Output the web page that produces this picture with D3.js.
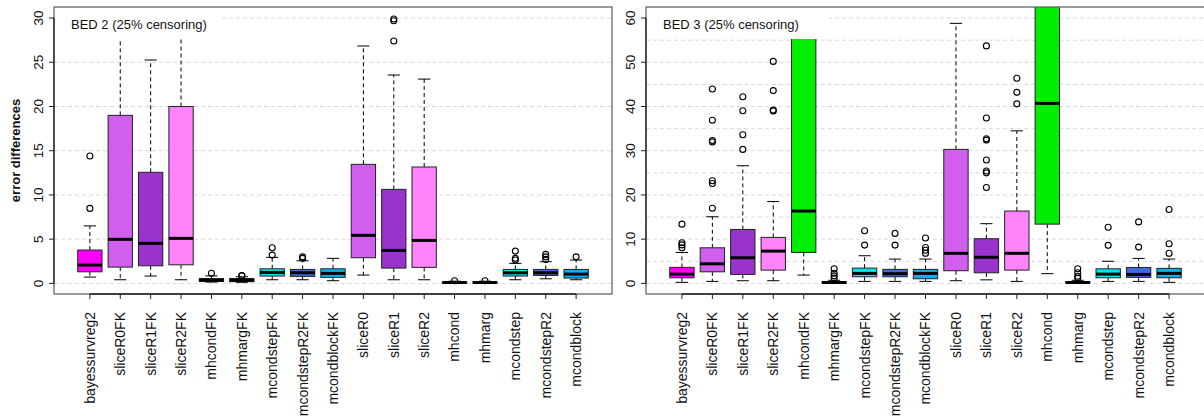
<!DOCTYPE html>
<html>
<head>
<meta charset="utf-8">
<script src="https://cdn.jsdelivr.net/npm/d3@7"></script>
<style>
  body { margin: 0; background: #fff; }
  text { font-family: "Liberation Sans", Arial, Helvetica, sans-serif; }
</style>
</head>
<body>
<div id="chart"></div>
<script>
/* DATA */

const methods = ["bayessurvreg2", "sliceR0FK", "sliceR1FK", "sliceR2FK", "mhcondFK", "mhmargFK",
  "mcondstepFK", "mcondstepR2FK", "mcondblockFK", "sliceR0", "sliceR1", "sliceR2", "mhcond",
  "mhmarg", "mcondstep", "mcondstepR2", "mcondblock"];

const fills = ["#ff00ff", "#d15fee", "#9a32cd", "#ff83fa", "#00ee00", "#006400",
  "#00e5ee", "#4169e1", "#00b2ee", "#d15fee", "#9a32cd", "#ff83fa", "#00ee00",
  "#006400", "#00e5ee", "#4169e1", "#00b2ee"];

// BED 2 box stats
const bed2Lo  = [0.71, 0.41, 0.83, 0.41, 0.15, 0.12, 0.41, 0.41, 0.30, 0.94, 0.41, 0.41, 0.02, 0.02, 0.41, 0.52, 0.41];
const bed2Q1  = [1.31, 1.84, 1.99, 2.10, 0.22, 0.20, 0.83, 0.79, 0.68, 2.90, 1.73, 1.81, 0.06, 0.06, 0.83, 0.90, 0.60];
const bed2Med = [2.07, 4.98, 4.52, 5.09, 0.35, 0.35, 1.24, 1.20, 1.13, 5.43, 3.73, 4.86, 0.10, 0.10, 1.20, 1.20, 1.05];
const bed2Q3  = [3.77, 19.0, 12.56, 20.0, 0.55, 0.55, 1.65, 1.58, 1.65, 13.46, 10.63, 13.16, 0.16, 0.16, 1.58, 1.58, 1.58];
const bed2Hi  = [6.5, 28.4, 25.26, 29.0, 0.85, 0.75, 2.94, 2.56, 2.83, 26.84, 23.56, 23.1, 0.25, 0.25, 2.26, 2.45, 2.64];
const bed2Out = [[8.48, 14.4], [], [], [], [1.15], [0.85, 0.9], [3.2, 4.03], [2.83, 3.0], [],
  [], [27.4, 29.7, 29.9], [], [0.3], [0.3], [2.64, 2.83, 3.65], [2.71, 3.0, 3.28], [3.0]];

// BED 3 box stats
const bed3Lo  = [0.23, 0.45, 0.6, 0.6, 1.88, 0.02, 0.45, 0.45, 0.45, 0.6, 0.8, 0.45, 2.2, 0.02, 0.45, 0.45, 0.23];
const bed3Q1  = [1.27, 2.62, 2.03, 3.0, 7.0, 0.1, 1.5, 1.5, 1.05, 2.86, 2.4, 3.0, 13.4, 0.1, 1.27, 1.36, 1.27];
const bed3Med = [2.1, 4.43, 5.8, 7.3, 16.36, 0.2, 2.26, 2.2, 2.26, 6.8, 5.9, 6.8, 40.7, 0.2, 2.1, 2.03, 2.26];
const bed3Q3  = [3.62, 8.05, 12.2, 10.4, 58, 0.35, 3.46, 3.17, 3.17, 30.3, 10.1, 16.36, 70, 0.35, 3.3, 3.6, 3.4];
const bed3Hi  = [7.0, 15.07, 26.6, 18.5, 80, 0.7, 6.25, 5.5, 5.5, 58.8, 13.5, 34.5, 95, 0.7, 5.0, 5.65, 5.5];
const bed3Out = [[8.05, 8.7, 9.2, 13.4], [17.0, 22.6, 23.2, 32.0, 32.3, 36.9, 43.96],
  [30.3, 33.6, 39.05, 42.2], [39.0, 39.2, 43.6, 50.2], [], [1.2, 1.7, 2.3, 3.3],
  [8.66, 11.9], [8.66, 11.3], [6.8, 7.5, 8.1, 10.25], [],
  [21.7, 25.0, 25.4, 27.9, 32.4, 32.7, 37.4, 53.7], [40.6, 43.2, 46.4], [],
  [1.2, 1.6, 2.4, 3.3], [8.6, 12.7], [8.2, 13.9], [6.8, 8.96, 16.7]];

const bed2Ticks = [0, 5, 10, 15, 20, 25, 30];
const bed2Grid = [0, 5, 10, 15, 20, 25, 30];
const bed3Ticks = [0, 10, 20, 30, 40, 50, 60];
const bed3Grid = [0, 5, 10, 15, 20, 25, 30, 35, 40, 45, 50, 55, 60];

/* SET UP */

const w = 1204;
const h = 420;
const plotTop = 7;
const plotBottom = 294;

const svg = d3.select("#chart").append("svg")
  .attr("width", w)
  .attr("height", h);

const panels = [
  { id: "p1", left: 54, right: 612, ymin: -1.2, ymax: 31.25, title: "BED 2 (25% censoring)",
    lo: bed2Lo, q1: bed2Q1, med: bed2Med, q3: bed2Q3, hi: bed2Hi, out: bed2Out,
    ticks: bed2Ticks, grid: bed2Grid, legendW: 166 },
  { id: "p2", left: 646, right: 1205, ymin: -2.4, ymax: 62.5, title: "BED 3 (25% censoring)",
    lo: bed3Lo, q1: bed3Q1, med: bed3Med, q3: bed3Q3, hi: bed3Hi, out: bed3Out,
    ticks: bed3Ticks, grid: bed3Grid, legendW: 182 }
];

panels.forEach((p) => {
  const x = d3.scaleLinear().domain([-0.18, 18.18]).range([p.left, p.right]);
  const y = d3.scaleLinear().domain([p.ymin, p.ymax]).range([plotBottom, plotTop]);
  const bw = (x(1) - x(0)) * 0.8;
  const sw = bw / 2;

  svg.append("clipPath").attr("id", "clip-" + p.id)
    .append("rect")
    .attr("x", p.left).attr("y", plotTop)
    .attr("width", p.right - p.left).attr("height", plotBottom - plotTop);

  const g = svg.append("g").attr("clip-path", `url(#clip-${p.id})`);

  // grid
  g.selectAll(".grid").data(p.grid).join("line")
    .attr("x1", p.left).attr("x2", p.right)
    .attr("y1", (d) => y(d)).attr("y2", (d) => y(d))
    .attr("stroke", "#d9d9d9").attr("stroke-dasharray", "4,3");

  const boxes = g.selectAll(".bx").data(methods).join("g").attr("class", "bx");

  // whiskers
  boxes.append("line")
    .attr("x1", (d, i) => x(i + 1)).attr("x2", (d, i) => x(i + 1))
    .attr("y1", (d, i) => y(p.q3[i])).attr("y2", (d, i) => y(p.hi[i]))
    .attr("stroke", "#000").attr("stroke-dasharray", "4,3");
  boxes.append("line")
    .attr("x1", (d, i) => x(i + 1)).attr("x2", (d, i) => x(i + 1))
    .attr("y1", (d, i) => y(p.q1[i])).attr("y2", (d, i) => y(p.lo[i]))
    .attr("stroke", "#000").attr("stroke-dasharray", "4,3");
  // staples
  boxes.append("line")
    .attr("x1", (d, i) => x(i + 1) - sw / 2).attr("x2", (d, i) => x(i + 1) + sw / 2)
    .attr("y1", (d, i) => y(p.hi[i])).attr("y2", (d, i) => y(p.hi[i]))
    .attr("stroke", "#000");
  boxes.append("line")
    .attr("x1", (d, i) => x(i + 1) - sw / 2).attr("x2", (d, i) => x(i + 1) + sw / 2)
    .attr("y1", (d, i) => y(p.lo[i])).attr("y2", (d, i) => y(p.lo[i]))
    .attr("stroke", "#000");
  // box
  boxes.append("rect")
    .attr("x", (d, i) => x(i + 1) - bw / 2)
    .attr("width", bw)
    .attr("y", (d, i) => y(p.q3[i]))
    .attr("height", (d, i) => Math.max(0.5, y(p.q1[i]) - y(p.q3[i])))
    .attr("fill", (d, i) => fills[i])
    .attr("stroke", "#222").attr("stroke-width", 1);
  // median
  boxes.append("line")
    .attr("x1", (d, i) => x(i + 1) - bw / 2).attr("x2", (d, i) => x(i + 1) + bw / 2)
    .attr("y1", (d, i) => y(p.med[i])).attr("y2", (d, i) => y(p.med[i]))
    .attr("stroke", "#000").attr("stroke-width", 3);
  // outliers
  boxes.each(function (d, i) {
    d3.select(this).selectAll("circle").data(p.out[i]).join("circle")
      .attr("cx", x(i + 1)).attr("cy", (v) => y(v)).attr("r", 3)
      .attr("fill", "none").attr("stroke", "#000").attr("stroke-width", 1.1);
  });

  // legend box
  svg.append("rect")
    .attr("x", p.left + 1).attr("y", plotTop + 1)
    .attr("width", p.legendW).attr("height", 31)
    .attr("fill", "#fff");
  svg.append("text")
    .attr("x", p.left + 17).attr("y", 29)
    .attr("font-size", 13).attr("fill", "#111")
    .text(p.title);

  // frame
  svg.append("rect")
    .attr("x", p.left).attr("y", plotTop)
    .attr("width", p.right - p.left).attr("height", plotBottom - plotTop)
    .attr("fill", "none").attr("stroke", "#666").attr("stroke-width", 1.3);

  // y axis
  const ya = svg.append("g");
  ya.append("line")
    .attr("x1", p.left).attr("x2", p.left)
    .attr("y1", y(p.ticks[0])).attr("y2", y(p.ticks[p.ticks.length - 1]))
    .attr("stroke", "#222").attr("stroke-width", 1.3);
  ya.selectAll(".yt").data(p.ticks).join("line")
    .attr("x1", p.left - 5).attr("x2", p.left)
    .attr("y1", (d) => y(d)).attr("y2", (d) => y(d))
    .attr("stroke", "#222");
  ya.selectAll(".yl").data(p.ticks).join("text")
    .attr("transform", (d) => `translate(${p.left - 11},${y(d)}) rotate(-90)`)
    .attr("text-anchor", "middle")
    .attr("font-size", 13.5).attr("fill", "#111")
    .text((d) => d);

  // x axis
  const xa = svg.append("g");
  xa.append("line")
    .attr("x1", x(1)).attr("x2", x(methods.length))
    .attr("y1", plotBottom).attr("y2", plotBottom)
    .attr("stroke", "#222").attr("stroke-width", 1.3);
  xa.selectAll(".xt").data(methods).join("line")
    .attr("x1", (d, i) => x(i + 1)).attr("x2", (d, i) => x(i + 1))
    .attr("y1", plotBottom).attr("y2", plotBottom + 5)
    .attr("stroke", "#222");
  xa.selectAll(".xl").data(methods).join("text")
    .attr("transform", (d, i) => `translate(${x(i + 1)},312) rotate(-90)`)
    .attr("text-anchor", "end")
    .attr("dy", "0.35em")
    .attr("font-size", 14).attr("fill", "#111")
    .text((d) => d);
});

// y axis title
svg.append("text")
  .attr("transform", `translate(20,${(plotTop + plotBottom) / 2}) rotate(-90)`)
  .attr("text-anchor", "middle")
  .attr("font-size", 13).attr("font-weight", "bold").attr("fill", "#111")
  .text("error differences");
</script>
</body>
</html>
